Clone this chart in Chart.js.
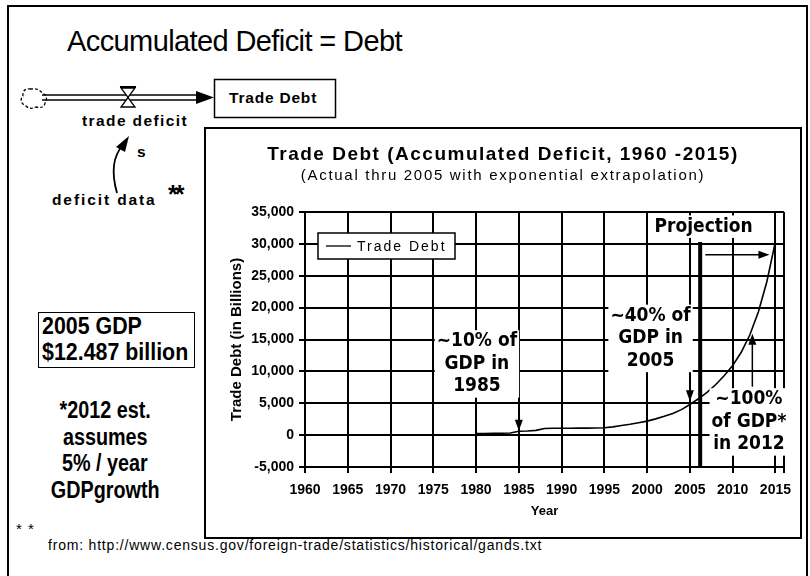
<!DOCTYPE html>
<html>
<head>
<meta charset="utf-8">
<script src="https://cdn.jsdelivr.net/npm/chart.js@4.4.1/dist/chart.umd.min.js"></script>
<style>
html, body { margin: 0; padding: 0; background: #fff; }
#page { position: relative; width: 810px; height: 576px; overflow: hidden; font-family: "Liberation Sans", Arial, sans-serif; color: #000; }
.abs { position: absolute; white-space: nowrap; }
.narrow { font-family: "Liberation Sans", Arial, sans-serif; font-weight: bold; }
.sq { display: inline-block; transform: scaleX(0.86); transform-origin: left center; }
#frame { left: 7px; top: 5px; width: 797px; height: 600px; border-left: 2px solid #000; border-top: 2px solid #000; border-right: 2px solid #000; }
#chartBox { left: 204px; top: 127px; width: 594px; height: 408px; border: 2px solid #000; background: #fff; }
#chartBox canvas { position: absolute; left: 0; top: 0; }
#chartTitle { left: 0; top: 14px; width: 594px; text-align: center; font-weight: bold; font-size: 19px; letter-spacing: 1.5px; }
#chartSub { left: 0; top: 37px; width: 594px; text-align: center; font-size: 15px; letter-spacing: 1.7px; }
#gdpBox { left: 38px; top: 312px; width: 152px; height: 54px; border: 1.5px solid #000; font-size: 23px; line-height: 26px; padding-left: 3px; }
#gdpBox .sq { transform: scaleX(0.93); }
#note { left: 37px; top: 397px; width: 136px; text-align: center; font-size: 23px; line-height: 26.5px; }
#note .sq { transform-origin: center center; }
.diag { font-size: 15.5px; font-weight: bold; letter-spacing: 1.4px; }
</style>
</head>
<body>
<div id="page">
  <div id="frame" class="abs"></div>

  <div class="abs" style="left:67px;top:25px;font-size:29px;letter-spacing:-0.6px;">Accumulated Deficit = Debt</div>

  <svg class="abs" style="left:0;top:0" width="810" height="576">
    <path d="M31 89 q-9 -1 -8 7 q-5 6 3 10 q4 4 10 1 q8 2 9 -4 q4 -7 -3 -10 q-3 -5 -11 -4z" fill="none" stroke="#000" stroke-width="1.3" stroke-dasharray="3 2"/>
    <line x1="42" y1="95" x2="200" y2="95" stroke="#000" stroke-width="1.3"/>
    <line x1="42" y1="100" x2="200" y2="100" stroke="#000" stroke-width="1.3"/>
    <polygon points="196,91 214,97.5 196,104" fill="#000"/>
    <path d="M121 88 L135 88 L128 97.5 Z M128 97.5 L121 107 L135 107 Z" fill="#fff" stroke="#000" stroke-width="1.3"/>
    <line x1="120" y1="87" x2="136" y2="87" stroke="#000" stroke-width="2"/>
    <rect x="214.5" y="79.5" width="121" height="38" fill="#fff" stroke="#000" stroke-width="1.5"/>
    <path d="M117 193 C111 172 113 156 123 145" fill="none" stroke="#000" stroke-width="1.8"/>
    <polygon points="129,136 116,147 125,152" fill="#000"/>
  </svg>
  <div class="abs diag" style="left:229px;top:89px;letter-spacing:0.8px;">Trade Debt</div>
  <div class="abs diag" style="left:82px;top:112px;">trade deficit</div>
  <div class="abs diag" style="left:137px;top:143px;letter-spacing:0;">s</div>
  <div class="abs diag" style="left:52px;top:191px;letter-spacing:1.9px;">deficit data</div>
  <div class="abs" style="left:168px;top:180px;font-size:25px;font-weight:bold;letter-spacing:-3px;">**</div>

  <div id="gdpBox" class="abs narrow"><span class="sq">2005 GDP</span><br><span class="sq">$12.487 billion</span></div>
  <div id="note" class="abs narrow"><span class="sq">*2012 est.</span><br><span class="sq">assumes</span><br><span class="sq">5% / year</span><br><span class="sq">GDPgrowth</span></div>

  <div class="abs" style="left:16px;top:520px;font-size:15px;letter-spacing:1px;">* *</div>
  <div class="abs" style="left:48px;top:537px;font-size:14px;letter-spacing:0.8px;">from: http://www.census.gov/foreign-trade/statistics/historical/gands.txt</div>

  <div id="chartBox" class="abs">
    <canvas id="myChart" width="594" height="408"></canvas>
    <div id="chartTitle" class="abs">Trade Debt (Accumulated Deficit, 1960 -2015)</div>
    <div id="chartSub" class="abs">(Actual thru 2005 with exponential extrapolation)</div>
  </div>
</div>

<script>
// Trade debt (accumulated deficit, $ billions), actual thru 2005 then projection
const years = [1980, 1981, 1982, 1983, 1984, 1985, 1986, 1987, 1988, 1989, 1990,
  1991, 1992, 1993, 1994, 1995, 1996, 1997, 1998, 1999, 2000, 2001, 2002, 2003,
  2004, 2005, 2006, 2007, 2008, 2009, 2010, 2011, 2012, 2013, 2014, 2015];
const tradeDebt = [250, 260, 280, 300, 330, 600, 650, 750, 1050, 1080, 1080,
  1090, 1100, 1100, 1120, 1150, 1300, 1500, 1700, 1950, 2200, 2550, 2950, 3400,
  4000, 4800, 5700, 6700, 7900, 9300, 10900, 13000, 15700, 19300, 24100, 30400];

// axis ticks
const xTickYears = [1960, 1965, 1970, 1975, 1980, 1985, 1990, 1995, 2000, 2005, 2010, 2015];
const yTickValues = [-5000, 0, 5000, 10000, 15000, 20000, 25000, 30000, 35000];

// callouts, placed in data units (year, billions)
const callouts = [
  { lines: ['~10% of', 'GDP in', '1985'], x: 1980.1, y: 14700 },
  { lines: ['~40% of', 'GDP in', '2005'], x: 2000.4, y: 18700 },
  { lines: ['~100%', 'of GDP*', 'in 2012'], x: 2011.9, y: 5600 },
  { lines: ['Projection'], x: 2006.6, y: 32700 }
];
const arrows = [
  { x1: 1985, y1: 5200, x2: 1985, y2: 700 },
  { x1: 2005, y1: 9500, x2: 2005, y2: 5300 },
  { x1: 2012.3, y1: 7600, x2: 2012.3, y2: 15900 },
  { x1: 2006.8, y1: 28300, x2: 2014.3, y2: 28300 }
];
const projectionStart = 2006.2;

const noteFont = 'bold 19px "DejaVu Sans Condensed", "Liberation Sans", sans-serif';

function drawArrow(ctx, x1, y1, x2, y2) {
  const a = Math.atan2(y2 - y1, x2 - x1);
  ctx.beginPath();
  ctx.moveTo(x1, y1);
  ctx.lineTo(x2 - 8 * Math.cos(a), y2 - 8 * Math.sin(a));
  ctx.lineWidth = 1.5;
  ctx.stroke();
  ctx.beginPath();
  ctx.moveTo(x2, y2);
  ctx.lineTo(x2 - 11 * Math.cos(a) + 4 * Math.sin(a), y2 - 11 * Math.sin(a) - 4 * Math.cos(a));
  ctx.lineTo(x2 - 11 * Math.cos(a) - 4 * Math.sin(a), y2 - 11 * Math.sin(a) + 4 * Math.cos(a));
  ctx.closePath();
  ctx.fill();
}

const annotationPlugin = {
  id: 'notes',
  afterDatasetsDraw(chart) {
    const ctx = chart.ctx;
    const xs = chart.scales.x, ys = chart.scales.y;
    ctx.save();
    ctx.strokeStyle = '#000';
    ctx.fillStyle = '#000';

    // projection divider
    const px = xs.getPixelForValue(projectionStart);
    ctx.beginPath();
    ctx.moveTo(px, ys.getPixelForValue(30300));
    ctx.lineTo(px, chart.chartArea.bottom);
    ctx.lineWidth = 4;
    ctx.stroke();

    // callout texts on white
    ctx.font = noteFont;
    ctx.textAlign = 'center';
    ctx.textBaseline = 'middle';
    callouts.forEach(c => {
      const cx = xs.getPixelForValue(c.x);
      const cy = ys.getPixelForValue(c.y);
      const w = Math.max(...c.lines.map(l => ctx.measureText(l).width)) + 4;
      const lh = 22.5;
      ctx.fillStyle = '#fff';
      ctx.fillRect(cx - w / 2, cy - lh / 2, w, lh * c.lines.length);
      ctx.fillStyle = '#000';
      c.lines.forEach((l, i) => ctx.fillText(l, cx, cy + i * lh));
    });

    arrows.forEach(a => drawArrow(ctx,
      xs.getPixelForValue(a.x1), ys.getPixelForValue(a.y1),
      xs.getPixelForValue(a.x2), ys.getPixelForValue(a.y2)));

    // legend box
    const lx = chart.chartArea.left + 13, ly = chart.chartArea.top + 21;
    ctx.fillStyle = '#fff';
    ctx.fillRect(lx, ly, 137, 26);
    ctx.lineWidth = 1.5;
    ctx.strokeRect(lx, ly, 137, 26);
    ctx.beginPath();
    ctx.moveTo(lx + 8, ly + 13);
    ctx.lineTo(lx + 33, ly + 13);
    ctx.lineWidth = 1.3;
    ctx.stroke();
    ctx.fillStyle = '#000';
    ctx.font = '14px "Liberation Sans", sans-serif';
    ctx.letterSpacing = '2px';
    ctx.textAlign = 'left';
    ctx.fillText(chart.data.datasets[0].label, lx + 39, ly + 14);
    ctx.restore();
  }
};

const tickFont = { family: '"Liberation Sans", Arial, sans-serif', size: 14, weight: 'bold' };

const ctx = document.getElementById('myChart').getContext('2d');
const myChart = new Chart(ctx, {
  type: 'line',
  data: {
    datasets: [{
      label: 'Trade Debt',
      data: years.map((y, i) => ({ x: y, y: tradeDebt[i] })),
      borderColor: '#000',
      borderWidth: 1.6,
      pointRadius: 0,
      tension: 0,
      fill: false
    }]
  },
  options: {
    responsive: false,
    animation: false,
    layout: { padding: { left: 0, right: 16, top: 83, bottom: 0 } },
    scales: {
      x: {
        type: 'linear',
        min: 1960,
        max: 2016,
        afterBuildTicks: s => { s.ticks = xTickYears.concat([2016]).map(v => ({ value: v })); },
        afterFit: s => { s.height = 70; },
        ticks: {
          color: '#000',
          font: tickFont,
          padding: 9,
          maxRotation: 0,
          autoSkip: false,
          callback: v => (xTickYears.includes(v) ? String(v) : '')
        },
        grid: { color: '#000', lineWidth: 2, tickLength: 6 },
        border: { color: '#000', width: 2 },
        title: {
          display: true,
          text: 'Year',
          color: '#000',
          font: { family: '"Liberation Sans", Arial, sans-serif', size: 13, weight: 'bold' },
          padding: { top: 0, bottom: 18 }
        }
      },
      y: {
        min: -5000,
        max: 35000,
        afterBuildTicks: s => { s.ticks = yTickValues.map(v => ({ value: v })); },
        afterFit: s => { s.width = 99; },
        ticks: {
          color: '#000',
          font: tickFont,
          padding: 5,
          callback: v => v.toLocaleString('en-US')
        },
        grid: { color: '#000', lineWidth: 2, tickLength: 6 },
        border: { color: '#000', width: 2 },
        title: {
          display: true,
          text: 'Trade Debt (in Billions)',
          color: '#000',
          font: { family: '"Liberation Sans", Arial, sans-serif', size: 15, weight: 'bold' },
          padding: { top: 22, bottom: 0 }
        }
      }
    },
    plugins: {
      legend: { display: false },
      tooltip: { enabled: false }
    }
  },
  plugins: [annotationPlugin]
});
</script>
</body>
</html>
